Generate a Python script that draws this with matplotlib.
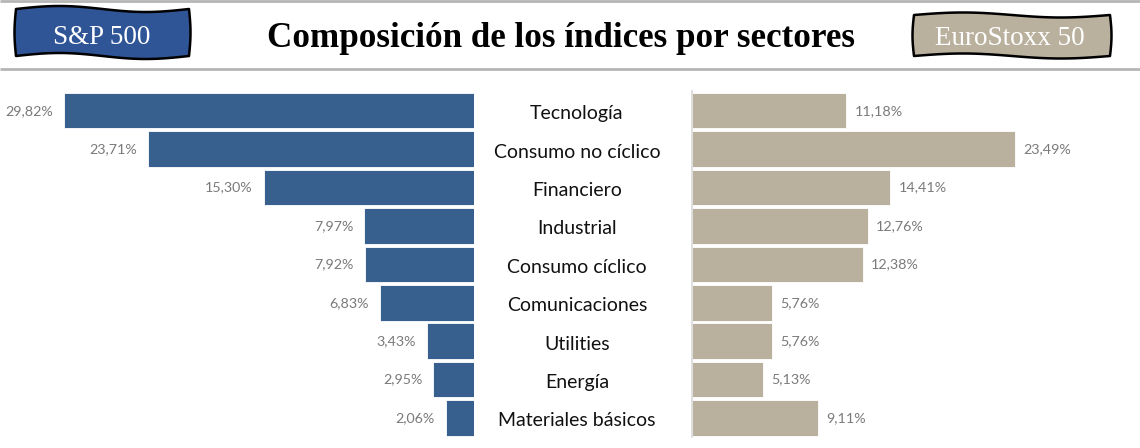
import numpy as np
import matplotlib
matplotlib.use("Agg")
import matplotlib.pyplot as plt
from matplotlib.patches import Polygon

categories = ["Tecnología", "Consumo no cíclico", "Financiero", "Industrial",
              "Consumo cíclico", "Comunicaciones", "Utilities", "Energía",
              "Materiales básicos"]
sp500 = [29.82, 23.71, 15.30, 7.97, 7.92, 6.83, 3.43, 2.95, 2.06]
eurostoxx = [11.18, 23.49, 14.41, 12.76, 12.38, 5.76, 5.76, 5.13, 9.11]
title = "Composición de los índices por sectores"
left_tag = "S&P 500"
right_tag = "EuroStoxx 50"

W, H = 1140, 448
BLUE = "#37608F"
BEIGE = "#B9B09E"
LABEL_GRAY = "#7A7A7A"
SANS = ["Lato", "DejaVu Sans"]
SERIF = ["Liberation Serif", "DejaVu Serif"]

fig = plt.figure(figsize=(W / 100, H / 100), dpi=100)

def fx(px):
    return px / W

def fy(py):
    return 1 - py / H

PX_PER_PCT = 13.74
top_px, bot_px = 91.5, 437.2
bar_h = 0.925

lx0, lx1 = 0, 474
axL = fig.add_axes([fx(lx0), fy(bot_px), fx(lx1 - lx0), (bot_px - top_px) / H])
rx0, rx1 = 692.5, 1140
axR = fig.add_axes([fx(rx0), fy(bot_px), fx(rx1 - rx0), (bot_px - top_px) / H])

y = np.arange(len(categories))
axL.barh(y, sp500, height=bar_h, color=BLUE, edgecolor="white", linewidth=0.6)
axR.barh(y, eurostoxx, height=bar_h, color=BEIGE, edgecolor="white", linewidth=0.6)

axL.set_xlim((lx1 - lx0) / PX_PER_PCT, 0)
axR.set_xlim(0, (rx1 - rx0) / PX_PER_PCT)
for ax in (axL, axR):
    ax.set_ylim(len(categories) - 0.5, -0.5)
    ax.set_xticks([])
    ax.set_yticks([])
    for s in ax.spines.values():
        s.set_visible(False)
    ax.patch.set_alpha(0)
axR.spines["left"].set_visible(True)
axR.spines["left"].set_color("#D9D9D9")
axR.spines["left"].set_linewidth(1.2)

for yi, v in zip(y, sp500):
    axL.annotate(f"{v:.2f}%".replace(".", ","), (v, yi), xytext=(-8, 0),
                 textcoords="offset points", ha="right", va="center",
                 fontsize=10.3, color=LABEL_GRAY, family=SANS)
for yi, v in zip(y, eurostoxx):
    axR.annotate(f"{v:.2f}%".replace(".", ","), (v, yi), xytext=(6, 0),
                 textcoords="offset points", ha="left", va="center",
                 fontsize=10.3, color=LABEL_GRAY, family=SANS)

ov = fig.add_axes([0, 0, 1, 1], zorder=5)
ov.set_xlim(0, W)
ov.set_ylim(H, 0)
ov.axis("off")
ov.patch.set_alpha(0)

pitch = (bot_px - top_px) / len(categories)
for i, c in enumerate(categories):
    ov.text(577, top_px + pitch * (i + 0.5) + 8.5, c, ha="center", va="baseline",
            fontsize=14, color="#111111", family=SANS)

ov.plot([0, W], [1, 1], color="#B5B5B5", lw=2, solid_capstyle="butt")
ov.plot([0, W], [69, 69], color="#B5B5B5", lw=2, solid_capstyle="butt")

ov.text(561, 47, title, ha="center", va="baseline", fontsize=25.2,
        fontweight="bold", color="black", family=SERIF)

def wavy_box(x0, x1, y0, y1, fc, amp=3.0, phase=0.0):
    t = np.linspace(0, 1, 120)
    topx = x0 + t * (x1 - x0)
    topy = y0 + amp * np.sin(2 * np.pi * t + phase)
    rt = np.linspace(0, 1, 30)
    rightx = x1 + 1.5 * np.sin(np.pi * rt)
    righty = topy[-1] + rt * (y1 + amp * np.sin(2 * np.pi + phase) - topy[-1])
    botx = x1 - t * (x1 - x0)
    boty = y1 + amp * np.sin(2 * np.pi * (1 - t) + phase)
    leftx = x0 - 1.5 * np.sin(np.pi * rt)
    lefty = boty[-1] + rt * (topy[0] - boty[-1])
    xs = np.concatenate([topx, rightx, botx, leftx])
    ys = np.concatenate([topy, righty, boty, lefty])
    poly = Polygon(np.column_stack([xs, ys]), closed=True, facecolor=fc,
                   edgecolor="black", linewidth=1.8, joinstyle="round")
    ov.add_patch(poly)

wavy_box(16, 189, 9, 56, "#2F5597", amp=3.0, phase=np.pi)
ov.text(102, 44, left_tag, ha="center", va="baseline", fontsize=19.5,
        color="white", family=SERIF)
wavy_box(914, 1110, 15, 56, BEIGE, amp=2.5, phase=np.pi)
ov.text(1010, 45, right_tag, ha="center", va="baseline", fontsize=19.5,
        color="white", family=SERIF)

fig.savefig("out.png", dpi=100, facecolor="white")
